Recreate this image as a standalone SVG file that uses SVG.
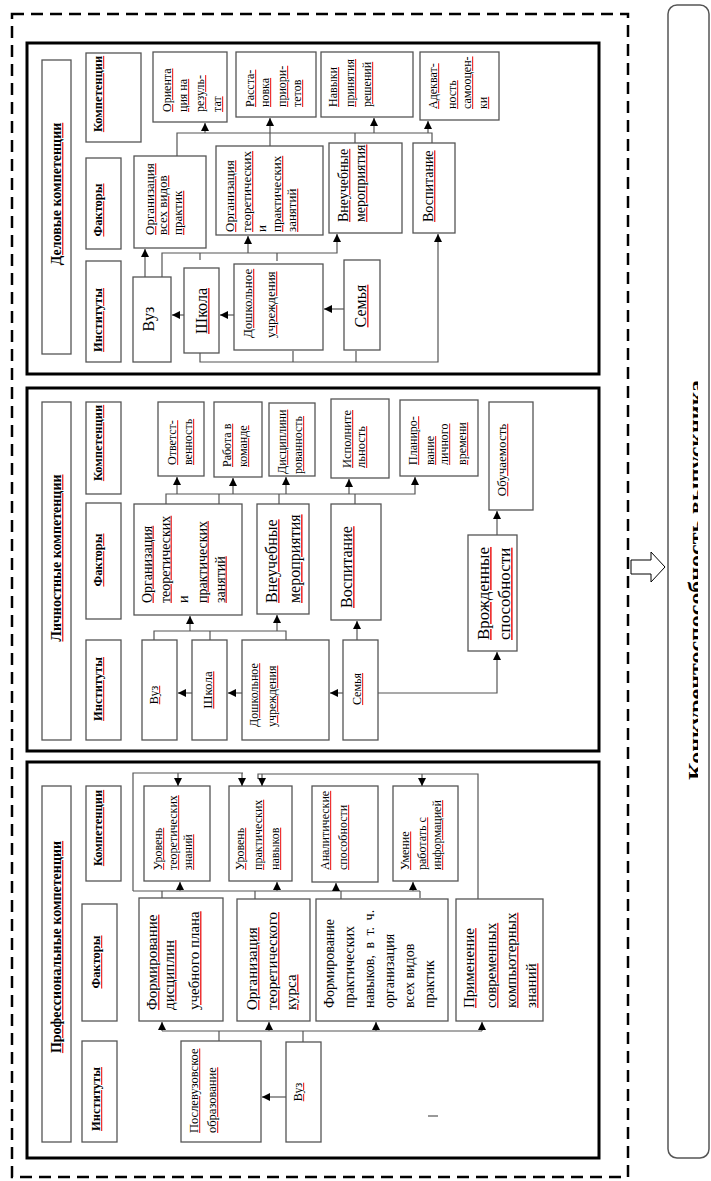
<svg xmlns="http://www.w3.org/2000/svg" width="711" height="1181" viewBox="0 0 711 1181">
<style>
.p{fill:none;stroke:#000;stroke-width:3}
.b{fill:#fff;stroke:#555;stroke-width:1.3}
.c{fill:none;stroke:#555;stroke-width:1.2}
.a{marker-end:url(#ah)}
.t{font-family:"Liberation Serif","Times New Roman",serif;fill:#000}
.h{font-weight:bold}
.sq{fill:#e33;text-decoration:underline;text-decoration-style:dotted}
.k{fill:#000}
</style>
<defs>
<marker id="ah" markerUnits="userSpaceOnUse" markerWidth="9" markerHeight="9" refX="8" refY="4" orient="auto"><path d="M0,0 L8,4 L0,8 z" fill="#000"/></marker>
<clipPath id="rc"><rect x="668" y="5" width="30" height="1153"/></clipPath>
</defs>
<rect width="711" height="1181" fill="#fff"/>
<path d="M12,14 H628 V1177 H12 Z" fill="none" stroke="#000" stroke-width="2.5" stroke-dasharray="12 7"/>
<g id="result">
<rect x="668" y="5" width="41" height="1153" rx="9" fill="none" stroke="#555" stroke-width="1.5"/>
<g clip-path="url(#rc)"><text class="t h" font-size="22" text-anchor="middle" textLength="400" lengthAdjust="spacingAndGlyphs" transform="translate(703,580) rotate(-90)">Конкурентоспособность выпускника</text></g>
</g>
<g id="bigarrow"><polygon points="631,560 651,560 651,552 665,567 651,582 651,574 631,574" fill="#fff" stroke="#000" stroke-width="1"/></g>

<g id="panel1">
<rect class="p" x="27" y="43" width="572" height="331"/>
<g id="p1-hdr"><rect class="b" x="42" y="60" width="29" height="294"/><text class="t h sq" font-size="14" text-anchor="middle" transform="translate(61,194) rotate(-90)"><tspan class="k">Деловые компетенции</tspan></text></g>
<g id="p1-k"><rect class="b" x="86" y="53" width="55" height="89"/><text class="t h sq" font-size="12.5" text-anchor="middle" transform="translate(102,94) rotate(-90)"><tspan class="k">Компетенции</tspan></text></g>
<g id="p1-f"><rect class="b" x="86" y="158" width="35" height="91"/><text class="t h sq" font-size="12.5" text-anchor="middle" transform="translate(102,210) rotate(-90)"><tspan class="k">Факторы</tspan></text></g>
<g id="p1-i"><rect class="b" x="86" y="261" width="35" height="101"/><text class="t h sq" font-size="12.5" text-anchor="middle" transform="translate(102,320) rotate(-90)"><tspan class="k">Институты</tspan></text></g>
<g id="p1-c1"><rect class="b" x="153" y="52" width="74" height="70"/><text class="t sq" font-size="12" transform="translate(171,112) rotate(-90)"><tspan class="k" x="0" y="0">Ориента</tspan><tspan class="k" x="0" y="16">ция на</tspan><tspan class="k" x="0" y="33">резуль-</tspan><tspan class="k" x="0" y="50">тат</tspan></text></g>
<g id="p1-c2"><rect class="b" x="236" y="52" width="80" height="65"/><text class="t sq" font-size="12" transform="translate(254,107) rotate(-90)"><tspan class="k" x="0" y="0">Расста-</tspan><tspan class="k" x="0" y="15">новка</tspan><tspan class="k" x="0" y="32">приори-</tspan><tspan class="k" x="0" y="47">тетов</tspan></text></g>
<g id="p1-c3"><rect class="b" x="321" y="52" width="92" height="65"/><text class="t sq" font-size="12" transform="translate(337,107) rotate(-90)"><tspan class="k" x="0" y="0">Навыки</tspan><tspan class="k" x="0" y="17">принятия</tspan><tspan class="k" x="0" y="34">решений</tspan></text></g>
<g id="p1-c4"><rect class="b" x="420" y="52" width="79" height="68"/><text class="t sq" font-size="12" transform="translate(437,109) rotate(-90)"><tspan class="k" x="0" y="0">Адекват-</tspan><tspan class="k" x="0" y="19">ность</tspan><tspan class="k" x="0" y="34">самооцен-</tspan><tspan class="k" x="0" y="50">ки</tspan></text></g>
<g id="p1-f1"><rect class="b" x="134" y="156" width="72" height="92"/><text class="t sq" font-size="13" transform="translate(154,235) rotate(-90)"><tspan class="k" x="0" y="0">Организация</tspan><tspan class="k" x="0" y="13">всех видов</tspan><tspan class="k" x="0" y="28">практик</tspan></text></g>
<g id="p1-f2"><rect class="b" x="216" y="146" width="107" height="89" stroke="#000"/><text class="t sq" font-size="13" transform="translate(234,232) rotate(-90)"><tspan class="k" x="0" y="0">Организация</tspan><tspan class="k" x="0" y="17">теоретических</tspan></text><text class="t" font-size="13" transform="translate(266,232) rotate(-90)">и</text><text class="t sq" font-size="13" transform="translate(281,232) rotate(-90)"><tspan class="k" x="0" y="0">практических</tspan><tspan class="k" x="0" y="15">занятий</tspan></text></g>
<g id="p1-f3"><rect class="b" x="329" y="143" width="73" height="90" stroke="#000"/><text class="t sq" font-size="14" transform="translate(348,222) rotate(-90)"><tspan class="k" x="0" y="0">Внеучебные</tspan><tspan class="k" x="0" y="17">мероприятия</tspan></text></g>
<g id="p1-f4"><rect class="b" x="413" y="143" width="42" height="90"/><text class="t sq" font-size="14" transform="translate(433,222) rotate(-90)"><tspan class="k">Воспитание</tspan></text></g>
<g id="p1-i1"><rect class="b" x="133" y="277" width="38" height="85"/><text class="t" font-size="16" text-anchor="middle" transform="translate(154,319) rotate(-90)">Вуз</text></g>
<g id="p1-i2"><rect class="b" x="184" y="268" width="35" height="85" stroke="#000"/><text class="t sq" font-size="16" text-anchor="middle" transform="translate(207,311) rotate(-90)"><tspan class="k">Школа</tspan></text></g>
<g id="p1-i3"><rect class="b" x="234" y="264" width="89" height="86" stroke="#000"/><text class="t sq" font-size="13" transform="translate(252,338) rotate(-90)"><tspan class="k" x="0" y="0">Дошкольное</tspan><tspan class="k" x="0" y="23">учреждения</tspan></text></g>
<g id="p1-i4"><rect class="b" x="344" y="260" width="36" height="90"/><text class="t sq" font-size="16" text-anchor="middle" transform="translate(366,306) rotate(-90)"><tspan class="k">Семья</tspan></text></g>
</g>

<g id="panel2">
<rect class="p" x="27" y="388" width="572" height="363"/>
<g id="p2-hdr"><rect class="b" x="42" y="402" width="29" height="338"/><text class="t h sq" font-size="14" text-anchor="middle" transform="translate(61,558) rotate(-90)"><tspan class="k">Личностные компетенции</tspan></text></g>
<g id="p2-k"><rect class="b" x="86" y="402" width="35" height="92"/><text class="t h sq" font-size="12.5" text-anchor="middle" transform="translate(102,443) rotate(-90)"><tspan class="k">Компетенции</tspan></text></g>
<g id="p2-f"><rect class="b" x="86" y="503" width="35" height="116"/><text class="t h sq" font-size="12.5" text-anchor="middle" transform="translate(102,560) rotate(-90)"><tspan class="k">Факторы</tspan></text></g>
<g id="p2-i"><rect class="b" x="86" y="640" width="35" height="100"/><text class="t h sq" font-size="12.5" text-anchor="middle" transform="translate(102,689) rotate(-90)"><tspan class="k">Институты</tspan></text></g>
<g id="p2-c1"><rect class="b" x="158" y="402" width="46" height="74"/><text class="t sq" font-size="12" transform="translate(176,465) rotate(-90)"><tspan class="k" x="0" y="0">Ответст-</tspan><tspan class="k" x="0" y="16">венность</tspan></text></g>
<g id="p2-c2"><rect class="b" x="214" y="402" width="48" height="75"/><text class="t sq" font-size="12" transform="translate(231,467) rotate(-90)"><tspan class="k" x="0" y="0">Работа в</tspan><tspan class="k" x="0" y="16">команде</tspan></text></g>
<g id="p2-c3"><rect class="b" x="269" y="403" width="46" height="73"/><text class="t sq" font-size="12" transform="translate(286,474) rotate(-90)"><tspan class="k" x="0" y="0">Дисциплини</tspan><tspan class="k" x="0" y="16">рованность</tspan></text></g>
<g id="p2-c4"><rect class="b" x="331" y="399" width="58" height="79" stroke="#000"/><text class="t sq" font-size="12.5" transform="translate(351,468) rotate(-90)"><tspan class="k" x="0" y="0">Исполните</tspan><tspan class="k" x="0" y="14">льность</tspan></text></g>
<g id="p2-c5"><rect class="b" x="400" y="400" width="78" height="76"/><text class="t sq" font-size="12" transform="translate(417,465) rotate(-90)"><tspan class="k" x="0" y="0">Планиро-</tspan><tspan class="k" x="0" y="17">вание</tspan><tspan class="k" x="0" y="31">личного</tspan><tspan class="k" x="0" y="49">времени</tspan></text></g>
<g id="p2-c6"><rect class="b" x="489" y="402" width="44" height="108" stroke="#000"/><text class="t sq" font-size="13" text-anchor="middle" transform="translate(506,460) rotate(-90)"><tspan class="k">Обучаемость</tspan></text></g>
<g id="p2-f1"><rect class="b" x="134" y="504" width="108" height="111" stroke="#000"/><text class="t sq" font-size="14" transform="translate(151.5,603) rotate(-90)"><tspan class="k" x="0" y="0">Организация</tspan><tspan class="k" x="0" y="18">теоретических</tspan></text><text class="t" font-size="14" transform="translate(187.5,603) rotate(-90)">и</text><text class="t sq" font-size="14" transform="translate(206.5,603) rotate(-90)"><tspan class="k" x="0" y="0">практических</tspan><tspan class="k" x="0" y="18">занятий</tspan></text></g>
<g id="p2-f2"><rect class="b" x="257" y="504" width="52" height="110"/><text class="t sq" font-size="16" transform="translate(277,603) rotate(-90)"><tspan class="k" x="0" y="0">Внеучебные</tspan><tspan class="k" x="0" y="23">мероприятия</tspan></text></g>
<g id="p2-f3"><rect class="b" x="331" y="504" width="50" height="116"/><text class="t sq" font-size="16" transform="translate(352,608) rotate(-90)"><tspan class="k">Воспитание</tspan></text></g>
<g id="p2-f4"><rect class="b" x="468" y="535" width="49" height="116" stroke="#000"/><text class="t sq" font-size="17" transform="translate(489,640) rotate(-90)"><tspan class="k" x="0" y="0">Врожденные</tspan><tspan class="k" x="0" y="21">способности</tspan></text></g>
<g id="p2-i1"><rect class="b" x="142" y="640" width="35" height="100"/><text class="t sq" font-size="12" text-anchor="middle" transform="translate(158,695) rotate(-90)"><tspan class="k">Вуз</tspan></text></g>
<g id="p2-i2"><rect class="b" x="192" y="640" width="35" height="100" stroke="#000"/><text class="t sq" font-size="13" text-anchor="middle" transform="translate(212,690) rotate(-90)"><tspan class="k">Школа</tspan></text></g>
<g id="p2-i3"><rect class="b" x="242" y="640" width="87" height="100" stroke="#000"/><text class="t sq" font-size="12" transform="translate(258,727) rotate(-90)"><tspan class="k" x="0" y="0">Дошкольное</tspan><tspan class="k" x="0" y="18">учреждения</tspan></text></g>
<g id="p2-i4"><rect class="b" x="343" y="640" width="35" height="100"/><text class="t sq" font-size="12" text-anchor="middle" transform="translate(361,689) rotate(-90)"><tspan class="k">Семья</tspan></text></g>
</g>

<g id="panel3">
<rect class="p" x="27" y="762" width="572" height="396"/>
<g id="p3-hdr"><rect class="b" x="42" y="786" width="29" height="356"/><text class="t h sq" font-size="14" text-anchor="middle" transform="translate(61,947) rotate(-90)"><tspan class="k">Профессиональные компетенции</tspan></text></g>
<g id="p3-k"><rect class="b" x="86" y="786" width="35" height="95"/><text class="t h sq" font-size="12.5" text-anchor="middle" transform="translate(102,828) rotate(-90)"><tspan class="k">Компетенции</tspan></text></g>
<g id="p3-f"><rect class="b" x="82" y="904" width="35" height="117"/><text class="t h sq" font-size="12.5" text-anchor="middle" transform="translate(100,962) rotate(-90)"><tspan class="k">Факторы</tspan></text></g>
<g id="p3-i"><rect class="b" x="82" y="1041" width="35" height="101"/><text class="t h sq" font-size="12.5" text-anchor="middle" transform="translate(100,1099) rotate(-90)"><tspan class="k">Институты</tspan></text></g>
<g id="p3-c1"><rect class="b" x="144" y="786" width="66" height="95"/><text class="t sq" font-size="12" transform="translate(162,870) rotate(-90)"><tspan class="k" x="0" y="0">Уровень</tspan><tspan class="k" x="0" y="15">теоретических</tspan><tspan class="k" x="0" y="30">знаний</tspan></text></g>
<g id="p3-c2"><rect class="b" x="229" y="786" width="63" height="95"/><text class="t sq" font-size="12" transform="translate(244,870) rotate(-90)"><tspan class="k" x="0" y="0">Уровень</tspan><tspan class="k" x="0" y="18">практических</tspan><tspan class="k" x="0" y="35">навыков</tspan></text></g>
<g id="p3-c3"><rect class="b" x="312" y="786" width="66" height="96" stroke="#000"/><text class="t sq" font-size="12" transform="translate(329,870) rotate(-90)"><tspan class="k" x="0" y="0">Аналитические</tspan><tspan class="k" x="0" y="18">способности</tspan></text></g>
<g id="p3-c4"><rect class="b" x="393" y="786" width="65" height="95"/><text class="t sq" font-size="12" transform="translate(409,870) rotate(-90)"><tspan class="k" x="0" y="0">Умение</tspan><tspan class="k" x="0" y="17">работать с</tspan><tspan class="k" x="0" y="32">информацией</tspan></text></g>
<g id="p3-f1"><rect class="b" x="139" y="898" width="84" height="123" stroke="#000"/><text class="t sq" font-size="15" transform="translate(157,1010) rotate(-90)"><tspan class="k" x="0" y="0">Формирование</tspan><tspan class="k" x="0" y="17">дисциплин</tspan><tspan class="k" x="0" y="42">учебного плана</tspan></text></g>
<g id="p3-f2"><rect class="b" x="237" y="899" width="73" height="122"/><text class="t sq" font-size="15" transform="translate(257,1010) rotate(-90)"><tspan class="k" x="0" y="0">Организация</tspan><tspan class="k" x="0" y="20">теоретического</tspan><tspan class="k" x="0" y="39">курса</tspan></text></g>
<g id="p3-f3"><rect class="b" x="316" y="899" width="132" height="122"/><text class="t" font-size="14" transform="translate(334,1008) rotate(-90)"><tspan x="0" y="0">Формирование</tspan><tspan x="0" y="20">практических</tspan><tspan x="0" y="40" word-spacing="3">навыков, в т. ч.</tspan><tspan x="0" y="60">организация</tspan><tspan x="0" y="80">всех видов</tspan><tspan x="0" y="100">практик</tspan></text></g>
<g id="p3-f4"><rect class="b" x="456" y="899" width="87" height="122"/><text class="t sq" font-size="15" transform="translate(474,1008) rotate(-90)"><tspan class="k" x="0" y="0">Применение</tspan><tspan class="k" x="0" y="22">современных</tspan><tspan class="k" x="0" y="42">компьютерных</tspan><tspan class="k" x="0" y="62">знаний</tspan></text></g>
<g id="p3-i1"><rect class="b" x="181" y="1041" width="80" height="101"/><text class="t sq" font-size="12.5" transform="translate(198,1133) rotate(-90)"><tspan class="k" x="0" y="0">Послевузовское</tspan><tspan class="k" x="0" y="18">образование</tspan></text></g>
<g id="p3-i2"><rect class="b" x="286" y="1042" width="35" height="100" stroke="#000"/><text class="t sq" font-size="12" text-anchor="middle" transform="translate(302,1092) rotate(-90)"><tspan class="k">Вуз</tspan></text></g>
<path d="M428,1116 H438" stroke="#555" stroke-width="1.2"/>
</g>

<g id="connectors">
<path class="c a" d="M184,315 H172"/>
<path class="c a" d="M234,315 H220"/>
<path class="c a" d="M344,309 H324"/>
<path class="c a" d="M145,277 V249"/>
<path class="c a" d="M162,277 V253 H337 V234"/>
<path class="c a" d="M248,253 V236"/>
<path class="c" d="M200,253 V260 M277,253 V261"/>
<path class="c a" d="M200,353 V362 H438 V234"/>
<path class="c" d="M293,362 V351 M356,362 V351"/>
<path class="c" d="M177,156 V133 H432 V143 M355,133 V143"/>
<path class="c a" d="M205,133 V123"/>
<path class="c a" d="M270,146 V118"/>
<path class="c a" d="M374,133 V118"/>
<path class="c a" d="M428,133 V121"/>

<path class="c a" d="M192,693 H178"/>
<path class="c a" d="M242,693 H228"/>
<path class="c a" d="M343,693 H330"/>
<path class="c a" d="M357,640 V621"/>
<path class="c a" d="M378,693 H497 V652"/>
<path class="c a" d="M497,535 V511"/>
<path class="c" d="M154,640 V631 H286 V640 M210,631 V640"/>
<path class="c a" d="M190,631 V616"/>
<path class="c a" d="M277,631 V615"/>
<path class="c a" d="M166,504 V494 H415 V477"/>
<path class="c" d="M219,494 V504 M279,494 V504 M355,494 V504"/>
<path class="c a" d="M177,494 V477"/>
<path class="c a" d="M233,494 V478"/>
<path class="c a" d="M286,494 V477"/>
<path class="c a" d="M349,494 V479"/>

<path class="c a" d="M286,1097 H262"/>
<path class="c" d="M162,1031 H482 M219,1041 V1031 M303,1042 V1031"/>
<path class="c a" d="M162,1031 V1022"/>
<path class="c a" d="M269,1031 V1022"/>
<path class="c a" d="M376,1031 V1022"/>
<path class="c a" d="M482,1031 V1022"/>
<path class="c" d="M133,891 V773 H243 M133,891 H420 M162,891 V898 M255,891 V899 M341,891 V899 M420,891 V898"/>
<path class="c a" d="M178,773 V786"/>
<path class="c a" d="M242,773 V786"/>
<path class="c a" d="M180,891 V882"/>
<path class="c a" d="M277,891 V882"/>
<path class="c a" d="M336,891 V883"/>
<path class="c a" d="M413,891 V882"/>
<path class="c" d="M258,779 V774 H478 V899"/>
<path class="c a" d="M262,774 V786"/>
<path class="c a" d="M422,774 V786"/>
</g>
</svg>
